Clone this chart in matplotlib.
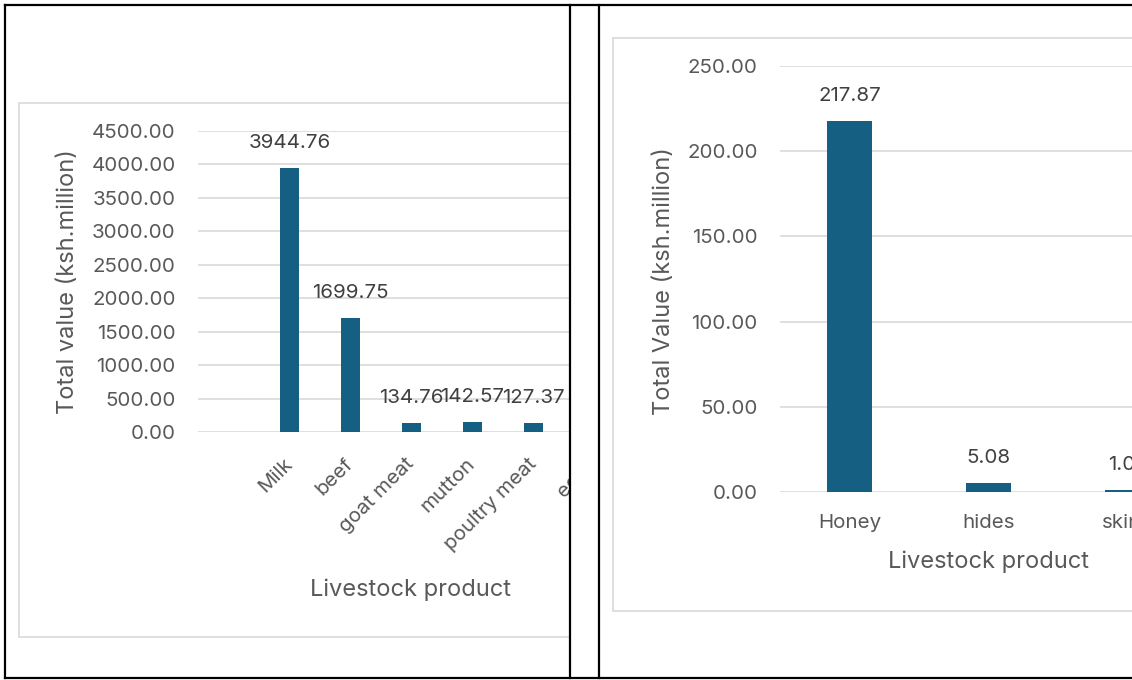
import numpy as np
import matplotlib
matplotlib.use("Agg")
import matplotlib.pyplot as plt
from matplotlib.patches import Rectangle
from matplotlib.lines import Line2D

# ---- data ----
left_categories = ["", "Milk", "beef", "goat meat", "mutton", "poultry meat", "eggs"]
left_values = [np.nan, 3944.76, 1699.75, 134.76, 142.57, 127.37, np.nan]
left_yticks = [0, 500, 1000, 1500, 2000, 2500, 3000, 3500, 4000, 4500]

right_categories = ["Honey", "hides", "skins"]
right_values = [217.87, 5.08, 1.05]
right_yticks = [0, 50, 100, 150, 200, 250]

# ---- style ----
W, H = 1132, 680
BAR = "#156082"
GRID = "#d9d9d9"
TICK = "#595959"
LABEL = "#404040"
FONT = ["Inter", "DejaVu Sans"]
plt.rcParams["font.family"] = FONT

fig = plt.figure(figsize=(W / 100, H / 100), dpi=100)
fig.patch.set_facecolor("white")


def px_rect(x0, y0, x1, y1):
    """Pixel box (top-left origin) -> figure fraction [l, b, w, h]."""
    return [x0 / W, (H - y1) / H, (x1 - x0) / W, (y1 - y0) / H]


def style_axes(ax, yticks, fs):
    ax.set_facecolor("none")
    for s in ax.spines.values():
        s.set_visible(False)
    ax.set_yticks(yticks)
    ax.set_yticklabels([f"{t:.2f}" for t in yticks])
    ax.set_ylim(yticks[0], yticks[-1])
    ax.yaxis.grid(True, color=GRID, linewidth=1.2)
    ax.set_axisbelow(True)
    ax.tick_params(axis="y", length=0, pad=16, labelsize=fs, labelcolor=TICK)


def value_labels(ax, xs, vals, fs):
    for x, v in zip(xs, vals):
        if np.isnan(v):
            continue
        ax.annotate(f"{v:.2f}", (x, v), xytext=(0, 18), textcoords="offset points",
                    ha="center", va="center", fontsize=fs, color=LABEL,
                    annotation_clip=False)


FS = 14.8       # tick and value labels
FS_AX = 17      # axis titles

# ---- left chart ----
box_l = Rectangle((19 / W, (H - 637) / H), (600 - 19) / W, (637 - 103) / H,
                  transform=fig.transFigure, facecolor="white", edgecolor=GRID,
                  linewidth=1.2, zorder=0.5)
fig.add_artist(box_l)

axl = fig.add_axes(px_rect(198, 131, 610, 432), zorder=1)
style_axes(axl, left_yticks, FS)
xl = np.arange(len(left_categories))
axl.bar(xl, left_values, width=0.31, color=BAR)
axl.set_xlim(-0.5, (610 - 198) / 61 - 0.5)
axl.set_xticks(xl)
axl.set_xticklabels(left_categories, rotation=45, ha="right", va="center",
                    rotation_mode="anchor")
axl.tick_params(axis="x", length=0, pad=21, labelsize=FS, labelcolor=TICK)
value_labels(axl, xl, left_values, FS)
axl.set_ylabel("Total value (ksh.million)", fontsize=FS_AX, color=TICK, va="center")
axl.yaxis.set_label_coords((68 - 198) / (610 - 198), 0.5)
axl.set_xlabel("Livestock product", fontsize=FS_AX, color=TICK, va="center")
axl.xaxis.set_label_coords((411 - 198) / (610 - 198), (432 - 590) / 301)

# gap between the two table cells
mask = Rectangle((570 / W, 0), (613 - 570) / W, 1, transform=fig.transFigure,
                 facecolor="white", edgecolor="none", zorder=2)
fig.add_artist(mask)

# ---- right chart ----
box_r = Rectangle((613 / W, (H - 611) / H), (1200 - 613) / W, (611 - 38) / H,
                  transform=fig.transFigure, facecolor="white", edgecolor=GRID,
                  linewidth=1.2, zorder=2.5)
fig.add_artist(box_r)

axr = fig.add_axes(px_rect(780, 66, 1132, 492), zorder=3)
style_axes(axr, right_yticks, FS)
xr = np.arange(len(right_categories))
axr.bar(xr, right_values, width=0.317, color=BAR)
axr.set_xlim(-0.5, (1132 - 780) / 139 - 0.5)
axr.set_xticks(xr)
axr.set_xticklabels(right_categories)
axr.tick_params(axis="x", length=0, pad=16, labelsize=FS, labelcolor=TICK)
value_labels(axr, xr, right_values, FS)
axr.set_ylabel("Total Value (ksh.million)", fontsize=FS_AX, color=TICK, va="center")
axr.yaxis.set_label_coords((664 - 780) / 352, (492 - 281) / 426)
axr.set_xlabel("Livestock product", fontsize=FS_AX, color=TICK, va="center")
axr.xaxis.set_label_coords((989 - 780) / 352, (492 - 562) / 426)

# ---- table borders ----
def fig_line(x0, y0, x1, y1):
    fig.add_artist(Line2D([x0 / W, x1 / W], [(H - y0) / H, (H - y1) / H],
                          transform=fig.transFigure, color="black",
                          linewidth=1.6, solid_capstyle="projecting", zorder=10))

fig_line(5, 5, W + 5, 5)
fig_line(5, 678, W + 5, 678)
fig_line(5, 5, 5, 678)
fig_line(570, 5, 570, 678)
fig_line(599, 5, 599, 678)

fig.savefig("out.png", dpi=100, facecolor="white")
